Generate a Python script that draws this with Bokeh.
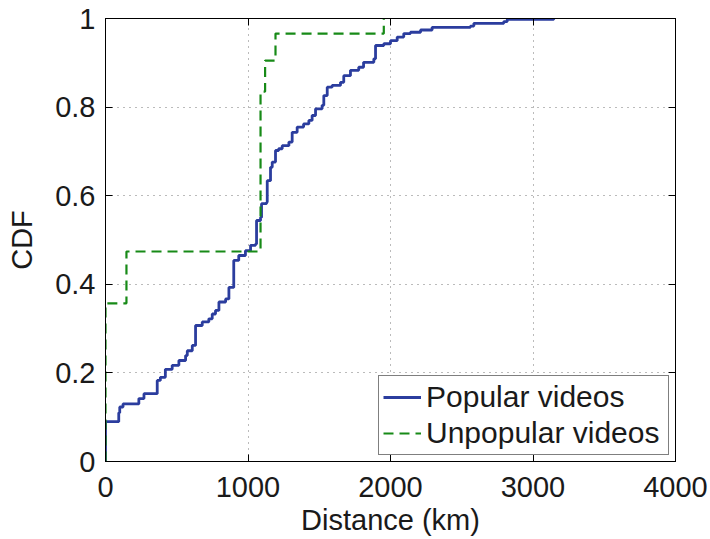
from bokeh.plotting import figure
from bokeh.models import LinearAxis, FixedTicker, Legend, LegendItem, Range1d
from bokeh.embed import file_html
from bokeh.resources import INLINE

# Popular videos: step CDF (distance km, cumulative fraction)
pop_x = [0, 0, 93, 100, 123, 234, 270, 363, 385, 420, 468, 515, 562, 574, 609, 632, 679, 725,
         749, 772, 796, 843, 866, 900, 935, 982, 1018, 1053, 1060, 1088, 1095, 1130, 1135, 1158,
         1170, 1193, 1215, 1240, 1287, 1310, 1345, 1390, 1427, 1450, 1474, 1520, 1532, 1556, 1590,
         1649, 1672, 1719, 1777, 1811, 1883, 1895, 1953, 2000, 2047, 2093, 2140, 2211, 2292, 2561,
         2585, 2795, 2819, 3145]
pop_y = [0, 0.09, 0.11, 0.123, 0.13, 0.142, 0.153, 0.183, 0.19, 0.208, 0.217, 0.228, 0.239, 0.25,
         0.262, 0.307, 0.315, 0.322, 0.333, 0.341, 0.36, 0.367, 0.393, 0.454, 0.465, 0.476, 0.488,
         0.491, 0.544, 0.551, 0.582, 0.585, 0.634, 0.664, 0.676, 0.702, 0.706, 0.713, 0.721, 0.743,
         0.755, 0.762, 0.77, 0.781, 0.796, 0.804, 0.826, 0.845, 0.849, 0.856, 0.871, 0.883, 0.89,
         0.901, 0.909, 0.939, 0.943, 0.95, 0.958, 0.966, 0.969, 0.974, 0.98, 0.983, 0.989, 0.993,
         0.998, 1.0]

# Unpopular videos
unpop_x = [0, 0, 147, 1088, 1120, 1193, 1953]
unpop_y = [0, 0.357, 0.474, 0.835, 0.905, 0.966, 1.0]

x_ticks = [0, 1000, 2000, 3000, 4000]
y_ticks = [0, 0.2, 0.4, 0.6, 0.8, 1]
y_tick_labels = ["0", "0.2", "0.4", "0.6", "0.8", "1"]

FONT = "Liberation Sans"
FS = "29px"

p = figure(frame_width=570, frame_height=443, output_backend="svg", toolbar_location=None,
           x_range=Range1d(0, 4000), y_range=Range1d(0, 1),
           min_border_left=105, min_border_top=18, min_border_right=35, min_border_bottom=78)
p.background_fill_color = "white"
p.border_fill_color = "white"
p.outline_line_color = "black"
p.outline_line_width = 1

for ax in [p.xaxis[0], p.yaxis[0]]:
    ax.major_label_text_font = FONT
    ax.major_label_text_font_size = FS
    ax.major_label_text_color = "#1a1a1a"
    ax.axis_label_text_font = FONT
    ax.axis_label_text_font_size = FS
    ax.axis_label_text_font_style = "normal"
    ax.axis_label_text_color = "#1a1a1a"
    ax.major_tick_in = 7
    ax.major_tick_out = 0
    ax.minor_tick_in = 0
    ax.minor_tick_out = 0
    ax.axis_line_color = "black"
    ax.major_tick_line_color = "black"

p.xaxis[0].ticker = FixedTicker(ticks=x_ticks)
p.yaxis[0].ticker = FixedTicker(ticks=y_ticks)
p.yaxis[0].major_label_overrides = {t: l for t, l in zip(y_ticks, y_tick_labels)}
p.xaxis[0].axis_label = "Distance (km)"
p.yaxis[0].axis_label = "CDF"
p.xaxis[0].major_label_standoff = 15
p.yaxis[0].major_label_standoff = 10
p.xaxis[0].axis_label_standoff = 4
p.yaxis[0].axis_label_standoff = 14

top = LinearAxis(ticker=FixedTicker(ticks=x_ticks),
                 major_label_overrides={t: "" for t in x_ticks},
                 major_label_standoff=0, major_tick_in=7, major_tick_out=0,
                 minor_tick_in=0, minor_tick_out=0, major_label_text_font_size="8px")
right = LinearAxis(ticker=FixedTicker(ticks=y_ticks),
                   major_label_overrides={t: "" for t in y_ticks},
                   major_label_standoff=0, major_tick_in=7, major_tick_out=0,
                   minor_tick_in=0, minor_tick_out=0, major_label_text_font_size="8px")
p.add_layout(top, "above")
p.add_layout(right, "right")

p.xgrid.ticker = FixedTicker(ticks=x_ticks)
p.ygrid.ticker = FixedTicker(ticks=y_ticks)
for g in [p.xgrid[0], p.ygrid[0]]:
    g.grid_line_color = "#777777"
    g.grid_line_dash = "1 5"
    g.grid_line_width = 1

r_pop = p.step(pop_x, pop_y, mode="after", line_color="#2b3d9e", line_width=2.8)
r_unp = p.step(unpop_x, unpop_y, mode="after", line_color="#178a17", line_width=2.2,
               line_dash="10 6")

legend = Legend(items=[LegendItem(label="Popular videos", renderers=[r_pop]),
                       LegendItem(label="Unpopular videos", renderers=[r_unp])],
                location="bottom_right")
legend.label_text_font = FONT
legend.label_text_font_size = "30px"
legend.label_text_color = "#1a1a1a"
legend.border_line_color = "black"
legend.border_line_width = 1
legend.background_fill_alpha = 1.0
legend.glyph_width = 38
legend.glyph_height = 34
legend.label_height = 34
legend.label_width = 238
legend.label_standoff = 5
legend.spacing = 2
legend.padding = 4
legend.margin = 6
p.add_layout(legend)

open("out.html", "w").write(file_html(p, INLINE))
